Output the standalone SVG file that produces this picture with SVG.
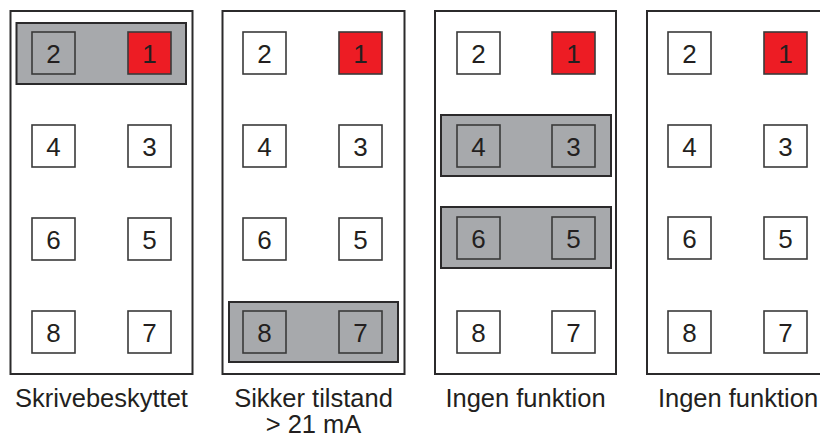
<svg xmlns="http://www.w3.org/2000/svg" width="820" height="439" viewBox="0 0 820 439">
<style>
.panel{fill:#fff;stroke:#2b2a2b;stroke-width:2}
.jmp{fill:#a7a9ac;stroke:#2b2a2b;stroke-width:2}
.pin{fill:#fff;stroke:#3a3a3a;stroke-width:1.6}
.pin.g{fill:#a7a9ac}
.pin.r{fill:#ed1c24}
.num{font-family:"Liberation Sans",Arial,sans-serif;font-size:26px;fill:#231f20;text-anchor:middle}
.lbl{font-family:"Liberation Sans",Arial,sans-serif;font-size:25.5px;fill:#231f20;text-anchor:middle}
</style>
<g id="panel1">
<rect class="panel" x="10.5" y="11" width="182" height="363"/>
<rect class="jmp" x="16.5" y="23" width="169.5" height="61"/>
<rect class="pin g" x="32" y="32" width="43" height="42"/><text class="num" x="53.5" y="62.5">2</text>
<rect class="pin r" x="128" y="32" width="43" height="42"/><text class="num" x="149.5" y="62.5">1</text>
<rect class="pin" x="32" y="125" width="43" height="42"/><text class="num" x="53.5" y="155.5">4</text>
<rect class="pin" x="128" y="125" width="43" height="42"/><text class="num" x="149.5" y="155.5">3</text>
<rect class="pin" x="32" y="218" width="43" height="42"/><text class="num" x="53.5" y="248.5">6</text>
<rect class="pin" x="128" y="218" width="43" height="42"/><text class="num" x="149.5" y="248.5">5</text>
<rect class="pin" x="32" y="311" width="43" height="42"/><text class="num" x="53.5" y="341.5">8</text>
<rect class="pin" x="128" y="311" width="43" height="42"/><text class="num" x="149.5" y="341.5">7</text>
<text class="lbl" x="101.5" y="407">Skrivebeskyttet</text>
</g>
<g id="panel2">
<rect class="panel" x="222.5" y="11" width="182" height="363"/>
<rect class="jmp" x="229" y="302" width="169" height="60"/>
<rect class="pin" x="243" y="32" width="43" height="42"/><text class="num" x="264.5" y="62.5">2</text>
<rect class="pin r" x="339" y="32" width="43" height="42"/><text class="num" x="360.5" y="62.5">1</text>
<rect class="pin" x="243" y="125" width="43" height="42"/><text class="num" x="264.5" y="155.5">4</text>
<rect class="pin" x="339" y="125" width="43" height="42"/><text class="num" x="360.5" y="155.5">3</text>
<rect class="pin" x="243" y="218" width="43" height="42"/><text class="num" x="264.5" y="248.5">6</text>
<rect class="pin" x="339" y="218" width="43" height="42"/><text class="num" x="360.5" y="248.5">5</text>
<rect class="pin g" x="243" y="311" width="43" height="42"/><text class="num" x="264.5" y="341.5">8</text>
<rect class="pin g" x="339" y="311" width="43" height="42"/><text class="num" x="360.5" y="341.5">7</text>
<text class="lbl" x="313.5" y="407">Sikker tilstand</text>
<text class="lbl" x="313.5" y="433">&gt; 21 mA</text>
</g>
<g id="panel3">
<rect class="panel" x="435" y="11" width="181" height="363"/>
<rect class="jmp" x="441" y="115" width="170" height="61"/>
<rect class="jmp" x="441" y="207" width="170" height="61"/>
<rect class="pin" x="457" y="32" width="43" height="42"/><text class="num" x="478.5" y="62.5">2</text>
<rect class="pin r" x="552" y="32" width="43" height="42"/><text class="num" x="573.5" y="62.5">1</text>
<rect class="pin g" x="457" y="125" width="43" height="42"/><text class="num" x="478.5" y="155.5">4</text>
<rect class="pin g" x="552" y="125" width="43" height="42"/><text class="num" x="573.5" y="155.5">3</text>
<rect class="pin g" x="457" y="217" width="43" height="42"/><text class="num" x="478.5" y="247.5">6</text>
<rect class="pin g" x="552" y="217" width="43" height="42"/><text class="num" x="573.5" y="247.5">5</text>
<rect class="pin" x="457" y="311" width="43" height="42"/><text class="num" x="478.5" y="341.5">8</text>
<rect class="pin" x="552" y="311" width="43" height="42"/><text class="num" x="573.5" y="341.5">7</text>
<text class="lbl" x="525.5" y="407">Ingen funktion</text>
</g>
<g id="panel4">
<rect class="panel" x="647" y="11" width="182" height="363"/>
<rect class="pin" x="668" y="32" width="43" height="42"/><text class="num" x="689.5" y="62.5">2</text>
<rect class="pin r" x="764" y="32" width="43" height="42"/><text class="num" x="785.5" y="62.5">1</text>
<rect class="pin" x="668" y="125" width="43" height="42"/><text class="num" x="689.5" y="155.5">4</text>
<rect class="pin" x="764" y="125" width="43" height="42"/><text class="num" x="785.5" y="155.5">3</text>
<rect class="pin" x="668" y="217" width="43" height="42"/><text class="num" x="689.5" y="247.5">6</text>
<rect class="pin" x="764" y="217" width="43" height="42"/><text class="num" x="785.5" y="247.5">5</text>
<rect class="pin" x="668" y="311" width="43" height="42"/><text class="num" x="689.5" y="341.5">8</text>
<rect class="pin" x="764" y="311" width="43" height="42"/><text class="num" x="785.5" y="341.5">7</text>
<text class="lbl" x="738" y="407">Ingen funktion</text>
</g>
<g id="connectors"/>
</svg>
